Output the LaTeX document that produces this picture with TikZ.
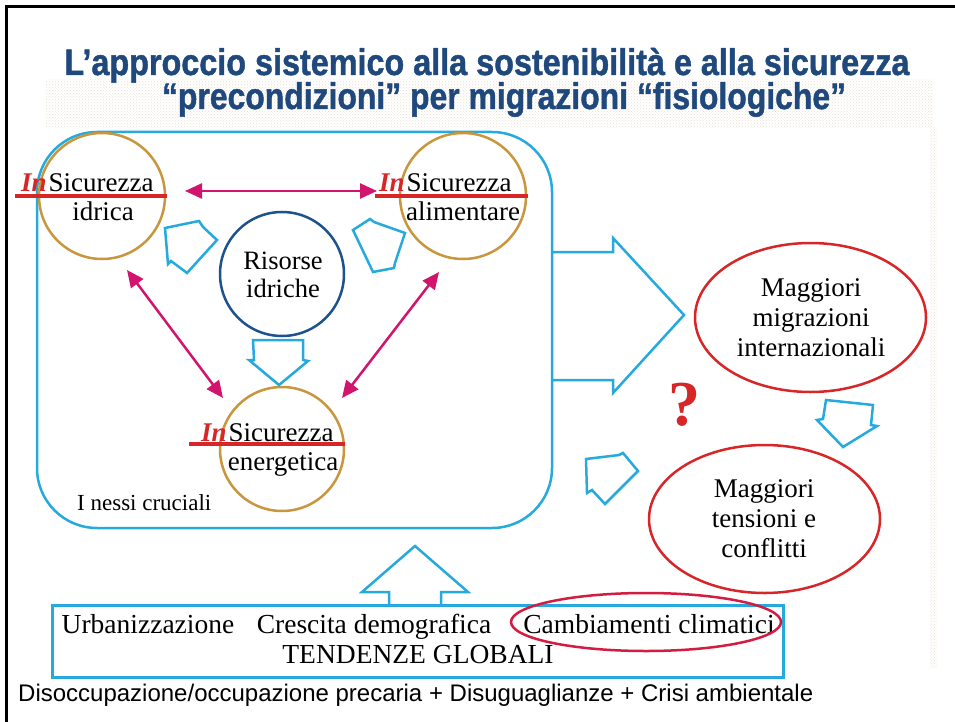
\documentclass[tikz,border=0pt]{standalone}
\usepackage{graphicx}
\usepackage{fontspec}
\setmainfont{Liberation Serif}
\newfontfamily\bottomfont{Liberation Sans}
\newfontfamily\titlefont{Liberation Sans Bold}[FakeBold=1.3]
\usetikzlibrary{arrows.meta,patterns,shapes.geometric}
\definecolor{titlec}{HTML}{1F497D}
\definecolor{cyanc}{RGB}{38,170,222}
\definecolor{goldc}{RGB}{200,150,60}
\definecolor{risc}{RGB}{30,82,140}
\definecolor{magc}{RGB}{210,20,110}
\definecolor{redc}{RGB}{215,38,40}
\definecolor{crimc}{RGB}{212,28,64}
\definecolor{dotc}{RGB}{232,225,212}
\newcommand{\inred}[1]{\textcolor{redc}{\bfseries\itshape #1}}
\tikzset{
  goldcirc/.style={circle, draw=goldc, line width=2.5pt, minimum size=126pt, inner sep=0pt},
  riscirc/.style={circle, draw=risc, line width=2.5pt, minimum size=124pt, inner sep=0pt},
  redell/.style={ellipse, draw=redc, line width=2.5pt, inner sep=0pt},
  blockarrow/.style={draw=cyanc, line width=2.5pt, line join=miter},
  magarrow/.style={draw=magc, line width=2.5pt, {Triangle[length=17pt,width=15pt]}-{Triangle[length=17pt,width=15pt]}},
  redbar/.style={draw=redc, line width=4pt},
  serifbig/.style={font=\fontsize{27}{32}\selectfont, inner sep=0pt},
  seriftrend/.style={font=\fontsize{27.5}{31}\selectfont, inner sep=0pt},
  titletext/.style={font=\titlefont\fontsize{37}{44}\selectfont, text=titlec, inner sep=0pt, anchor=base},
}
\begin{document}
\begin{tikzpicture}[x=1pt,y=-1pt]
\useasboundingbox (0,0) rectangle (955,722);
\fill[white] (0,0) rectangle (955,722);
% stippled background bands
\fill[pattern=crosshatch dots, pattern color=dotc] (46,80) rectangle (933,128);
\fill[pattern=crosshatch dots, pattern color=dotc] (930,128) rectangle (937,668);
% slide frame
\draw[line width=3pt] (6,722) -- (6,7) -- (955,7);
% title
\node[titletext] (t1) at (487,75) {\resizebox{845pt}{\height}{L’approccio sistemico alla sostenibilità e alla sicurezza}};
\node[titletext] (t2) at (504,109) {\resizebox{684pt}{\height}{“precondizioni” per migrazioni “fisiologiche”}};
% nexus rounded box
\node[draw=cyanc, line width=2.5pt, rounded corners=60pt, minimum width=515pt, minimum height=396pt, inner sep=0pt] (nexus) at (294.5,330) {};
% circles
\node[goldcirc] (idr) at (102,196) {};
\node[goldcirc] (ali) at (463,196) {};
\node[goldcirc, minimum size=124pt] (ene) at (282,449) {};
\node[riscirc] (ris) at (282,274) {};
% red bars
\draw[redbar] (15,196) -- (167,196);
\draw[redbar] (375,196) -- (528,196);
\draw[redbar] (189,444) -- (345,444);
% circle texts
\node[serifbig, anchor=base west] (idrt1) at (21,192) {\inred{In}\hspace{2pt}Sicurezza};
\node[serifbig, anchor=base] (idrt2) at (103,220) {idrica};
\node[serifbig, anchor=base west] (alit1) at (379,192) {\inred{In}\hspace{2pt}Sicurezza};
\node[serifbig, anchor=base] (alit2) at (463,220) {alimentare};
\node[serifbig, anchor=base west] (enet1) at (201,441) {\inred{In}\hspace{2pt}Sicurezza};
\node[serifbig, anchor=base] (enet2) at (283,470) {energetica};
\node[serifbig, font=\fontsize{26.5}{30}\selectfont, anchor=base] (rist1) at (283,269) {Risorse};
\node[serifbig, font=\fontsize{26.5}{30}\selectfont, anchor=base] (rist2) at (283,297) {idriche};
\node[font=\fontsize{23}{27}\selectfont, inner sep=0pt, anchor=base west] (nessi) at (77,510) {I nessi cruciali};
% magenta double arrows
\coordinate (h1) at (185,191);
\coordinate (h2) at (377,191);
\coordinate (d1a) at (127,270);
\coordinate (d1b) at (223,398);
\coordinate (d2a) at (439,272);
\coordinate (d2b) at (342,398);
\draw[magarrow] (h1) -- (h2);
\draw[magarrow] (d1a) -- (d1b);
\draw[magarrow] (d2a) -- (d2b);
% small cyan block arrows inside the nexus
\draw[blockarrow] (165,228) -- (199,221) -- (203,227) -- (217,240) -- (187,273) -- (171,261) -- (168,264) -- cycle;
\draw[blockarrow] (353,230) -- (370,219) -- (374,222) -- (405,233) -- (395,263) -- (394,268) -- (373,272) -- cycle;
\draw[blockarrow] (253,340) -- (303,340) -- (303,360) -- (308,361) -- (279,385) -- (249,360) -- (254,360) -- cycle;
% big arrow to migrations
\draw[blockarrow] (552,252) -- (613,252) -- (613,238) -- (684,315) -- (613,393) -- (613,380) -- (552,380);
% right ellipses
\node[redell, minimum width=231pt, minimum height=149pt] (mig) at (810.5,317.5) {};
\node[serifbig, anchor=base] (migt1) at (811,296) {Maggiori};
\node[serifbig, anchor=base] (migt2) at (811,326) {migrazioni};
\node[serifbig, anchor=base] (migt3) at (811,356) {internazionali};
\node[redell, minimum width=231pt, minimum height=148pt] (conf) at (764.5,519) {};
\node[serifbig, anchor=base] (conft1) at (764,497) {Maggiori};
\node[serifbig, anchor=base] (conft2) at (764,527) {tensioni e};
\node[serifbig, anchor=base] (conft3) at (764,557) {conflitti};
\node[font=\bfseries\fontsize{64}{70}\selectfont, text=redc, inner sep=0pt] (q) at (684,405) {?};
\draw[blockarrow] (826,400) -- (873,405) -- (871,425) -- (877,426) -- (843,447) -- (817,420) -- (823,419) -- cycle;
\draw[blockarrow] (586,459) -- (619,455) -- (623,453) -- (638,471) -- (605,504) -- (592,490) -- (587,493) -- cycle;
% trends box
\draw[blockarrow] (389,605) -- (389,592) -- (362,592) -- (415,546) -- (468,592) -- (441,592) -- (441,605);
\node[draw=cyanc, line width=3pt, minimum width=731pt, minimum height=72pt, inner sep=0pt] (trend) at (417.5,641) {};
\node[seriftrend, anchor=base] (tr1) at (148,633) {Urbanizzazione};
\node[seriftrend, anchor=base] (tr2) at (374,633) {Crescita demografica};
\node[seriftrend, anchor=base] (tr3) at (649,633) {Cambiamenti climatici};
\node[seriftrend, anchor=base] (tr4) at (418,663) {TENDENZE GLOBALI};
\node[ellipse, draw=crimc, line width=2.5pt, minimum width=270pt, minimum height=58pt, inner sep=0pt] (climell) at (646,622) {};
% bottom line
\node[font=\bottomfont\fontsize{24}{28}\selectfont, inner sep=0pt, anchor=base west] (bottom) at (18,701) {Disoccupazione/occupazione precaria + Disuguaglianze + Crisi ambientale};
\end{tikzpicture}
\end{document}
